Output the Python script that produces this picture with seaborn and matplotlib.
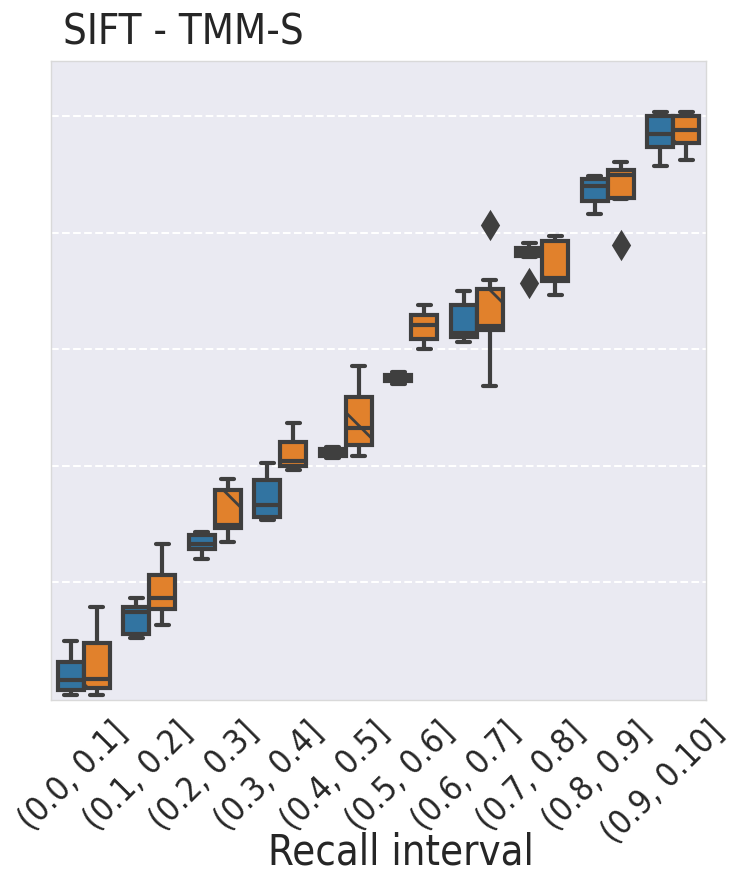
import numpy as np
import pandas as pd
import matplotlib
matplotlib.use("Agg")
import matplotlib.pyplot as plt
import seaborn as sns
from matplotlib.colors import to_rgb
from matplotlib.transforms import ScaledTranslation

# ---------------- data ----------------
categories = ["(0.0, 0.1]", "(0.1, 0.2]", "(0.2, 0.3]", "(0.3, 0.4]", "(0.4, 0.5]",
              "(0.5, 0.6]", "(0.6, 0.7]", "(0.7, 0.8]", "(0.8, 0.9]", "(0.9, 0.10]"]
methods = ["SIFT", "TMM-S"]

sift_values = [
    [0.005, 0.014, 0.031, 0.062, 0.098],
    [0.103, 0.110, 0.148, 0.157, 0.172],
    [0.239, 0.256, 0.265, 0.280, 0.286],
    [0.306, 0.311, 0.332, 0.375, 0.404],
    [0.413, 0.416, 0.422, 0.428, 0.432],
    [0.540, 0.545, 0.551, 0.556, 0.561],
    [0.613, 0.621, 0.628, 0.676, 0.700],
    [0.714, 0.759, 0.761, 0.764, 0.767, 0.770, 0.774, 0.783, 0.783],
    [0.833, 0.855, 0.881, 0.893, 0.898],
    [0.915, 0.948, 0.969, 1.001, 1.008],
]
tmms_values = [
    [0.005, 0.017, 0.033, 0.095, 0.157],
    [0.126, 0.153, 0.172, 0.212, 0.265],
    [0.268, 0.292, 0.298, 0.358, 0.377],
    [0.392, 0.399, 0.408, 0.440, 0.473],
    [0.416, 0.435, 0.465, 0.518, 0.571],
    [0.600, 0.618, 0.642, 0.659, 0.676],
    [0.537, 0.600, 0.633, 0.636, 0.640, 0.670, 0.704, 0.719, 0.814],
    [0.693, 0.718, 0.723, 0.786, 0.795],
    [0.779, 0.859, 0.860, 0.880, 0.900, 0.904, 0.908, 0.922, 0.922],
    [0.926, 0.955, 0.976, 1.000, 1.007],
]
y_ticks = [0.2, 0.4, 0.6, 0.8, 1.0]

rows = []
for cat, sv, tv in zip(categories, sift_values, tmms_values):
    for v in sv:
        rows.append({"Recall interval": cat, "value": v, "method": methods[0]})
    for v in tv:
        rows.append({"Recall interval": cat, "value": v, "method": methods[1]})
df = pd.DataFrame(rows)

# ---------------- style ----------------
sns.set_theme(style="darkgrid")
plt.rcParams["font.family"] = ["DejaVu Sans"]
plt.rcParams["font.stretch"] = "condensed"
plt.rcParams["hatch.linewidth"] = 1.0

DPI = 200
fig = plt.figure(figsize=(735 / DPI, 874 / DPI), dpi=DPI)
ax = fig.add_axes([0.0694, 0.199, 0.8911, 0.731])

base_palette = ["#1f77b4", "#ff7f0e"]
line_gray = "#3f3f3f"
sns.boxplot(
    data=df, x="Recall interval", y="value", hue="method",
    order=categories, hue_order=methods, palette=base_palette,
    saturation=0.75, linewidth=1.5, legend=False, ax=ax,
    flierprops=dict(marker="d", markersize=6.5, markerfacecolor=line_gray,
                    markeredgecolor=line_gray),
)

orange = np.array(to_rgb(sns.desaturate(base_palette[1], 0.75)))
for p in ax.patches:
    fc = np.array(p.get_facecolor()[:3])
    if np.allclose(fc, orange, atol=0.03):
        p.set_hatch("\\")

ax.set_ylim(-0.003, 1.095)
ax.set_yticks(y_ticks)
ax.set_yticklabels([])
ax.set_ylabel("")
ax.xaxis.grid(False)
ax.yaxis.grid(True, linestyle="--", color="white", linewidth=0.75)
ax.tick_params(axis="both", length=0)
ax.tick_params(axis="x", labelrotation=45, labelsize=12, pad=5.5, colors="#262626")
ax.set_xlabel("Recall interval", fontsize=15, color="#262626")
ax.xaxis.set_label_coords(0.534, -0.206)
ax.set_title("SIFT - TMM-S", loc="left", fontsize=15, x=0.018, pad=6, color="#262626")
for s in ax.spines.values():
    s.set_color("#d9d9d9")
    s.set_linewidth(0.5)

shift = ScaledTranslation(-11 / DPI, 0, fig.dpi_scale_trans)
for lbl in ax.get_xticklabels():
    lbl.set_transform(lbl.get_transform() + shift)

fig.savefig("out.png", dpi=DPI)
